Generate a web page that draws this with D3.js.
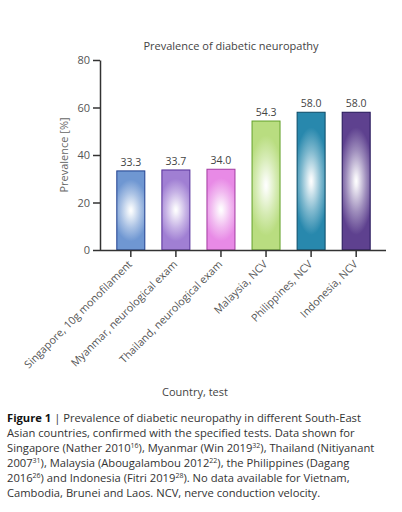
<!DOCTYPE html>
<html><head><meta charset="utf-8">
<script src="https://cdn.jsdelivr.net/npm/d3@7"></script>
<style>
html,body{margin:0;padding:0;background:#fff;}
svg{display:block;font-family:"Open Sans",sans-serif;}
</style></head>
<body>
<svg id="c" width="402" height="512"></svg>
<script>
const categories = ["Singapore, 10g monofilament","Myanmar, neurological exam","Thailand, neurological exam","Malaysia, NCV","Philippines, NCV","Indonesia, NCV"];
const values = [33.3, 33.7, 34.0, 54.3, 58.0, 58.0];
const valueLabels = ["33.3","33.7","34.0","54.3","58.0","58.0"];
const fillColors = ["#6f97d2","#a07fd3","#e88ae6","#b9dd80","#2888ad","#5e418f"];
const strokeColors = ["#1f3f8f","#56309a","#a23aa0","#63a02a","#0b4a66","#221457"];
const yTicks = [0, 20, 40, 60, 80];
const title = "Prevalence of diabetic neuropathy";
const yTitle = "Prevalence [%]";
const xTitle = "Country, test";

const svg = d3.select("#c");
const x = d3.scaleBand().domain(categories).range([108.5, 378.5]).paddingInner(0.37).paddingOuter(0.18);
const y = d3.scaleLinear().domain([0, 80]).range([250, 60]);

const defs = svg.append("defs");
fillColors.forEach((c, i) => {
  const g = defs.append("radialGradient").attr("id", "g" + i)
    .attr("cx", 0.5).attr("cy", 0.5).attr("r", 0.5)
    .attr("gradientTransform", "translate(0.5,0.5) scale(1.6,1) translate(-0.5,-0.5)");
  g.append("stop").attr("offset", "0%").attr("stop-color", "#ffffff");
  g.append("stop").attr("offset", "8%").attr("stop-color", d3.interpolateRgb("#ffffff", c)(0.08));
  g.append("stop").attr("offset", "45%").attr("stop-color", d3.interpolateRgb("#ffffff", c)(0.6));
  g.append("stop").attr("offset", "78%").attr("stop-color", c);
  g.append("stop").attr("offset", "100%").attr("stop-color", c);
});

// title
svg.append("text").attr("x", 231).attr("y", 50).attr("text-anchor", "middle")
  .attr("font-size", 11).attr("fill", "#444").text(title);

// bars
const bw = 28;
svg.selectAll("rect.bar").data(values).enter().append("rect")
  .attr("x", (d, i) => x(categories[i]) + x.bandwidth() / 2 - bw / 2)
  .attr("y", d => y(d))
  .attr("width", bw)
  .attr("height", d => y(0) - y(d))
  .attr("fill", (d, i) => `url(#g${i})`)
  .attr("stroke", (d, i) => strokeColors[i])
  .attr("stroke-width", 1);

svg.selectAll("text.val").data(values).enter().append("text")
  .attr("x", (d, i) => x(categories[i]) + x.bandwidth() / 2)
  .attr("y", d => y(d) - 5)
  .attr("text-anchor", "middle").attr("font-size", 10.5).attr("fill", "#444")
  .text((d, i) => valueLabels[i]);

// y axis
const yAxis = svg.append("g").attr("transform", "translate(100,0)")
  .call(d3.axisLeft(y).tickValues(yTicks).tickSize(7).tickPadding(3).tickSizeOuter(0));
yAxis.select(".domain").attr("stroke", "#333").attr("stroke-width", 1.5);
yAxis.selectAll(".tick line").attr("stroke", "#333").attr("stroke-width", 1.5);
yAxis.selectAll(".tick text").attr("font-size", 11).attr("fill", "#555").attr("font-family", "Open Sans, sans-serif");

// x axis
const xAxis = svg.append("g").attr("transform", "translate(0,250)")
  .call(d3.axisBottom(x).tickSize(7).tickSizeOuter(0).tickFormat(""));
xAxis.select(".domain").attr("d", "M100,0.5H386").attr("stroke", "#333").attr("stroke-width", 1.5);
xAxis.selectAll(".tick line").attr("stroke", "#333").attr("stroke-width", 1.5);

svg.selectAll("text.xl").data(categories).enter().append("text")
  .attr("transform", d => `translate(${x(d) + x.bandwidth() / 2 + 2},265) rotate(-45)`)
  .attr("text-anchor", "end").attr("font-size", 10.7).attr("fill", "#555").text(d => d);

svg.append("text").attr("transform", "translate(68,155) rotate(-90)")
  .attr("text-anchor", "middle").attr("font-size", 11).attr("fill", "#666").text(yTitle);

svg.append("text").attr("x", 195).attr("y", 396).attr("text-anchor", "middle")
  .attr("font-size", 11).attr("fill", "#444").text(xTitle);

// caption
const lines = [
  [["b","Figure 1"],["t"," | Prevalence of diabetic neuropathy in different South-East"]],
  [["t","Asian countries, confirmed with the specified tests. Data shown for"]],
  [["t","Singapore (Nather 2010"],["s","16"],["t","), Myanmar (Win 2019"],["s","32"],["t","), Thailand (Nitiyanant"]],
  [["t","2007"],["s","31"],["t","), Malaysia (Abougalambou 2012"],["s","22"],["t","), the Philippines (Dagang"]],
  [["t","2016"],["s","26"],["t",") and Indonesia (Fitri 2019"],["s","28"],["t","). No data available for Vietnam,"]],
  [["t","Cambodia, Brunei and Laos. NCV, nerve conduction velocity."]]
];
lines.forEach((ln, li) => {
  const t = svg.append("text").attr("x", 7).attr("y", 422 + li * 15)
    .attr("font-size", 11.2).attr("fill", "#333");
  ln.forEach(([k, s]) => {
    const sp = t.append("tspan").text(s);
    if (k === "b") sp.attr("font-weight", "bold").attr("fill", "#111");
    if (k === "s") sp.attr("font-size", 7).attr("baseline-shift", "super");
  });
});
</script>
</body></html>
